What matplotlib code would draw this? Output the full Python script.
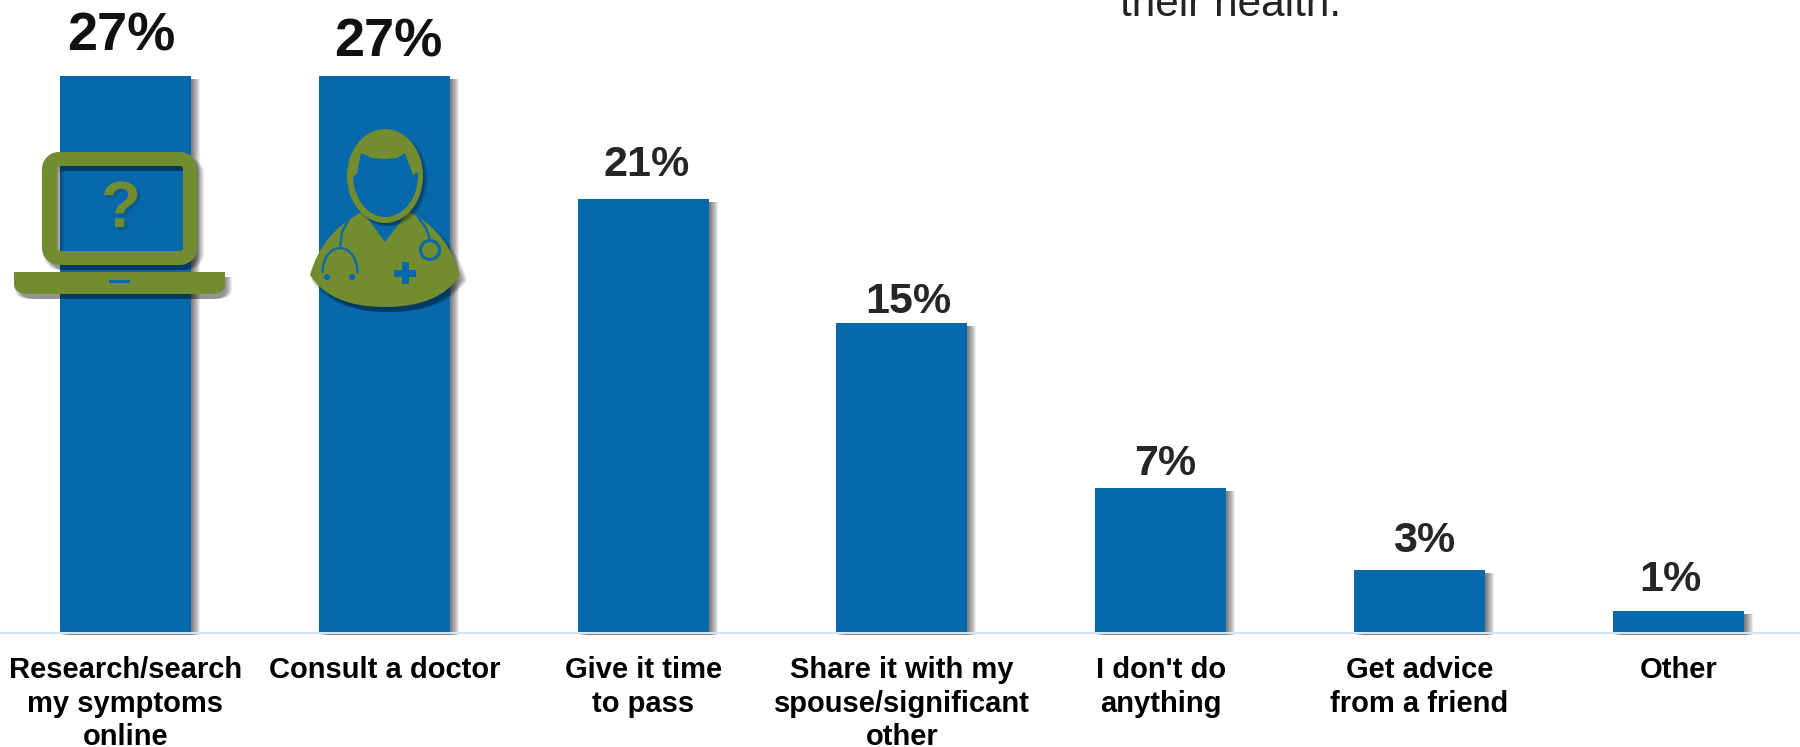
import numpy as np
import matplotlib
matplotlib.use("Agg")
import matplotlib.pyplot as plt
import matplotlib.patheffects as pe
from matplotlib.patches import Circle, Ellipse, PathPatch, Polygon, Rectangle
from matplotlib.path import Path

categories = ["Research/search\nmy symptoms\nonline", "Consult a doctor", "Give it time\nto pass",
              "Share it with my\nspouse/significant\nother", "I don't do\nanything",
              "Get advice\nfrom a friend", "Other"]
values = [27, 27, 21, 15, 7, 3, 1]

# label placement, in pixels relative to the top centre of each bar
label_dx = [-4, 4, 4, 6, 4, 5, -8]
label_gap = [25, 19, 23, 10, 13, 18, 20]
label_size = [39, 39, 31, 31, 31, 31, 31]
label_color = ["#111111", "#111111", "#262626", "#262626", "#262626", "#262626", "#262626"]

BLUE = "#0768ab"
GREEN = "#718d2f"
W, H = 1800, 747
STEP = 258.8       # px between bars
PX_PER_UNIT = 20.6
BASE_Y = 632

plt.rcParams["font.family"] = ["Liberation Sans", "DejaVu Sans"]


def shadow(steps=9, dy=3, alpha=0.075):
    # stack of offset copies gives a soft drop shadow
    fx = [pe.SimplePatchShadow(offset=(k * 0.72, -dy * 0.72), shadow_rgbFace="k", alpha=alpha)
          for k in range(1, steps + 1)]
    return fx + [pe.Normal()]


def rrect(x0, y0, x1, y1, r, hole=False):
    t = np.linspace(0, np.pi / 2, 12)
    pts = []
    for cx, cy, start in [(x1 - r, y0 + r, -np.pi / 2), (x1 - r, y1 - r, 0),
                          (x0 + r, y1 - r, np.pi / 2), (x0 + r, y0 + r, np.pi)]:
        pts.append(np.c_[cx + r * np.cos(start + t), cy + r * np.sin(start + t)])
    pts = np.vstack(pts)
    if hole:
        pts = pts[::-1]
    return Path(np.vstack([pts, pts[0]]), closed=True)


fig = plt.figure(figsize=(W / 100, H / 100), dpi=100)
ax = fig.add_axes([0, 0, 1, 1])
x = np.arange(len(values))
ax.set_xlim(-125.5 / STEP, (W - 125.5) / STEP)
ax.set_ylim(-(H - BASE_Y) / PX_PER_UNIT, BASE_Y / PX_PER_UNIT)
ax.axis("off")

bars = ax.bar(x, values, width=131 / STEP, color=BLUE, zorder=3)
for b in bars:
    b.set_path_effects(shadow())
ax.axhline(-0.05, color="#d5e3f3", lw=1.5, zorder=4)

for i, v in enumerate(values):
    ax.annotate(f"{v}%", (x[i], v), xytext=(label_dx[i], label_gap[i]), textcoords="offset pixels",
                ha="center", va="baseline", fontsize=label_size[i], fontweight="bold",
                color=label_color[i], zorder=5)
    ax.text(x[i], -1.18, categories[i], ha="center", va="top", fontsize=21, fontweight="bold",
            color="#000000", linespacing=1.24, zorder=5)

# icons live on a second axes in image pixels
ic = fig.add_axes([0, 0, 1, 1], facecolor="none")
ic.set_xlim(0, W)
ic.set_ylim(H, 0)
ic.axis("off")

# laptop
ring = Path.make_compound_path(rrect(42, 152, 197, 265, 17), rrect(57, 166, 183, 251, 3, hole=True))
ic.add_patch(PathPatch(ring, fc=GREEN, ec="none", path_effects=shadow(7, 5)))
base = Path([(14, 272), (225, 272), (225, 284), (225, 294), (210, 294), (29, 294), (14, 294), (14, 284), (14, 272)],
            [Path.MOVETO, Path.LINETO, Path.LINETO, Path.CURVE3, Path.CURVE3, Path.LINETO,
             Path.CURVE3, Path.CURVE3, Path.CLOSEPOLY])
ic.add_patch(PathPatch(base, fc=GREEN, ec="none", path_effects=shadow(7, 5)))
ic.add_patch(Rectangle((109, 280), 21, 3, fc=BLUE, ec="none"))
ic.text(121, 227, "?", ha="center", va="baseline", fontsize=47, fontweight="bold", color=GREEN,
        path_effects=[pe.withSimplePatchShadow(offset=(2, -2), alpha=0.2)])

# doctor
body = Path([(310, 275), (322, 232), (362, 212), (410, 212), (448, 232), (460, 275),
             (440, 307), (385, 307), (330, 307), (310, 275), (310, 275)],
            [Path.MOVETO, Path.CURVE3, Path.CURVE3, Path.LINETO, Path.CURVE3, Path.CURVE3,
             Path.CURVE3, Path.CURVE3, Path.CURVE3, Path.CURVE3, Path.CLOSEPOLY])
ic.add_patch(PathPatch(body, fc=GREEN, ec="none", path_effects=shadow(7, 5)))
ic.add_patch(Polygon([(363, 212), (385, 242), (408, 212)], closed=True, fc=BLUE, ec="none"))
ic.add_patch(Ellipse((385, 176), 76, 94, fc=GREEN, ec="none", path_effects=shadow(5, 3)))

# face cutout under the hair line
a = np.linspace(np.radians(-4), np.radians(184), 40)
face = np.c_[385.5 + 32.5 * np.cos(a), 175 + 42 * np.sin(a)]
hair = np.array([(353, 177), (357, 173), (361, 153), (372, 158), (385, 159), (397, 158), (405, 153),
                 (413, 175), (418, 172)])
ic.add_patch(Polygon(np.vstack([hair, face]), closed=True, fc=BLUE, ec="none"))

# stethoscope and cross
ic.plot([350, 342, 340], [217, 232, 248], color=BLUE, lw=1.6, zorder=6)
ic.plot([418, 426, 430], [217, 228, 240], color=BLUE, lw=1.6, zorder=6)
th = np.linspace(np.pi, 2 * np.pi, 30)
ic.plot(340 + 17.5 * np.cos(th), 272 + 24 * np.sin(th), color=BLUE, lw=1.6, zorder=6)
ic.add_patch(Circle((327, 277), 3, fc=BLUE, ec="none", zorder=6))
ic.add_patch(Circle((352, 277), 3, fc=BLUE, ec="none", zorder=6))
ic.add_patch(Circle((430, 250), 9.5, fc=GREEN, ec=BLUE, lw=2.2, zorder=6))
ic.add_patch(Rectangle((394, 270), 22, 6.5, fc=BLUE, ec="none", zorder=6))
ic.add_patch(Rectangle((401.5, 262), 7, 22, fc=BLUE, ec="none", zorder=6))

# tail of the cropped callout text
ic.text(1120, 16, "their health.", ha="left", va="baseline", fontsize=30.5, color="#222222")

fig.savefig("out.png", dpi=100, facecolor="white")
